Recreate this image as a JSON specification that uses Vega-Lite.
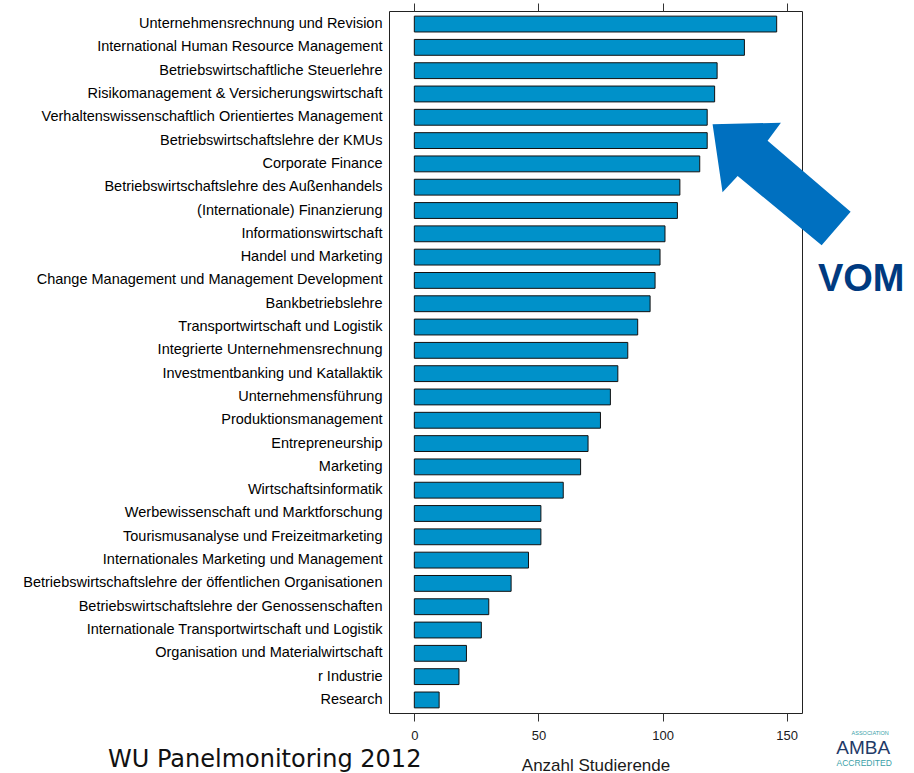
{
  "$schema": "https://vega.github.io/schema/vega-lite/v6.json",
  "width": 413,
  "height": 702,
  "autosize": "none",
  "padding": {"left": 389, "top": 11, "right": 112, "bottom": 60},
  "background": "white",
  "config": {
    "view": {"stroke": "#222", "strokeWidth": 1},
    "font": "Liberation Sans"
  },
  "title": {
    "text": "WU Panelmonitoring 2012",
    "orient": "bottom",
    "anchor": "start",
    "frame": "group",
    "font": "DejaVu Sans",
    "fontSize": 24,
    "fontWeight": "normal",
    "color": "#111",
    "baseline": "alphabetic",
    "offset": 0,
    "dx": -281,
    "dy": -6
  },
  "data": {
    "values": [
      {"Studienzweig": "Unternehmensrechnung und Revision", "Anzahl": 146},
      {"Studienzweig": "International Human Resource Management", "Anzahl": 133},
      {"Studienzweig": "Betriebswirtschaftliche Steuerlehre", "Anzahl": 122},
      {"Studienzweig": "Risikomanagement & Versicherungswirtschaft", "Anzahl": 121},
      {"Studienzweig": "Verhaltenswissenschaftlich Orientiertes Management", "Anzahl": 118},
      {"Studienzweig": "Betriebswirtschaftslehre der KMUs", "Anzahl": 118},
      {"Studienzweig": "Corporate Finance", "Anzahl": 115},
      {"Studienzweig": "Betriebswirtschaftslehre des Außenhandels", "Anzahl": 107},
      {"Studienzweig": "(Internationale) Finanzierung", "Anzahl": 106},
      {"Studienzweig": "Informationswirtschaft", "Anzahl": 101},
      {"Studienzweig": "Handel und Marketing", "Anzahl": 99},
      {"Studienzweig": "Change Management und Management Development", "Anzahl": 97},
      {"Studienzweig": "Bankbetriebslehre", "Anzahl": 95},
      {"Studienzweig": "Transportwirtschaft und Logistik", "Anzahl": 90},
      {"Studienzweig": "Integrierte Unternehmensrechnung", "Anzahl": 86},
      {"Studienzweig": "Investmentbanking und Katallaktik", "Anzahl": 82},
      {"Studienzweig": "Unternehmensführung", "Anzahl": 79},
      {"Studienzweig": "Produktionsmanagement", "Anzahl": 75},
      {"Studienzweig": "Entrepreneurship", "Anzahl": 70},
      {"Studienzweig": "Marketing", "Anzahl": 67},
      {"Studienzweig": "Wirtschaftsinformatik", "Anzahl": 60},
      {"Studienzweig": "Werbewissenschaft und Marktforschung", "Anzahl": 51},
      {"Studienzweig": "Tourismusanalyse und Freizeitmarketing", "Anzahl": 51},
      {"Studienzweig": "Internationales Marketing und Management", "Anzahl": 46},
      {"Studienzweig": "Betriebswirtschaftslehre der öffentlichen Organisationen", "Anzahl": 39},
      {"Studienzweig": "Betriebswirtschaftslehre der Genossenschaften", "Anzahl": 30},
      {"Studienzweig": "Internationale Transportwirtschaft und Logistik", "Anzahl": 27},
      {"Studienzweig": "Organisation und Materialwirtschaft", "Anzahl": 21},
      {"Studienzweig": "r Industrie", "Anzahl": 18},
      {"Studienzweig": "Research", "Anzahl": 10}
    ]
  },
  "encoding": {
    "y": {
      "field": "Studienzweig",
      "type": "nominal",
      "sort": null,
      "scale": {"paddingInner": 0.32, "paddingOuter": 0.22},
      "axis": {
        "title": null,
        "domain": false,
        "ticks": false,
        "labelPadding": 7,
        "labelFontSize": 14.5,
        "labelColor": "#000",
        "labelLimit": 500
      }
    }
  },
  "layer": [
    {
      "mark": {"type": "bar", "fill": "#0091c9", "stroke": "#111", "strokeWidth": 1},
      "encoding": {
        "x": {
          "field": "Anzahl",
          "type": "quantitative",
          "scale": {"domain": [-10.2, 156.2], "nice": false, "zero": false},
          "axis": {
            "orient": "bottom",
            "values": [0, 50, 100, 150],
            "domain": false,
            "grid": false,
            "tickSize": 8,
            "tickColor": "#333",
            "labelPadding": 8,
            "labelFontSize": 13,
            "labelColor": "#1a1a1a",
            "title": "Anzahl Studierende",
            "titleFontSize": 17,
            "titleFontWeight": "normal",
            "titleColor": "#1a1a1a",
            "titlePadding": 15
          }
        },
        "x2": {"datum": 0}
      }
    },
    {
      "transform": [{"filter": "datum.Studienzweig === 'Verhaltenswissenschaftlich Orientiertes Management'"}],
      "encoding": {
        "x": {
          "field": "Anzahl",
          "type": "quantitative",
          "axis": {
            "orient": "top",
            "values": [0, 50, 100, 150],
            "domain": false,
            "grid": false,
            "labels": false,
            "tickSize": 8,
            "tickColor": "#333",
            "title": null
          }
        }
      },
      "layer": [
        {
          "mark": {
            "type": "point",
            "shape": "M0,0 L0.488,-0.011 L0.393,0.117 L0.986,0.624 L0.779,0.864 L0.179,0.369 L0.071,0.486 Z",
            "size": 78400,
            "filled": true,
            "fill": "#0070c0",
            "opacity": 1,
            "strokeWidth": 0,
            "xOffset": 5.4,
            "yOffset": 7
          }
        },
        {
          "mark": {
            "type": "text",
            "text": "VOM",
            "font": "Liberation Sans",
            "fontWeight": "bold",
            "fontSize": 38,
            "color": "#003a80",
            "align": "center",
            "baseline": "alphabetic",
            "dx": 154,
            "dy": 174
          }
        },
        {
          "mark": {
            "type": "text",
            "text": "ASSOCIATION",
            "fontSize": 5.5,
            "color": "#3a9fa8",
            "align": "center",
            "baseline": "alphabetic",
            "dx": 163,
            "dy": 618
          }
        },
        {
          "mark": {
            "type": "text",
            "text": "AMBA",
            "fontSize": 19,
            "color": "#1f3a68",
            "align": "center",
            "baseline": "alphabetic",
            "dx": 156,
            "dy": 637
          }
        },
        {
          "mark": {
            "type": "text",
            "text": "ACCREDITED",
            "fontSize": 8.5,
            "color": "#3a9fa8",
            "align": "center",
            "baseline": "alphabetic",
            "dx": 157,
            "dy": 649
          }
        }
      ]
    }
  ]
}
